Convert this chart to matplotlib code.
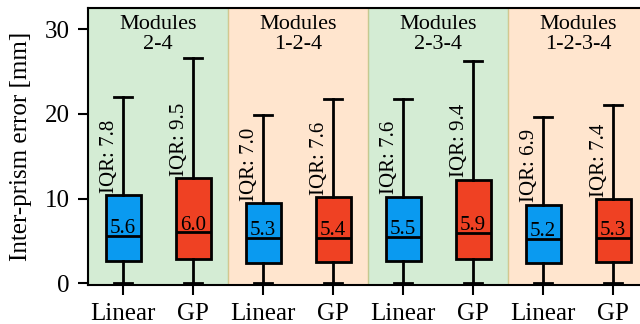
import matplotlib
matplotlib.use("Agg")
import matplotlib.pyplot as plt

plt.rcParams['font.family'] = ['Liberation Serif', 'DejaVu Serif']

methods = ['Linear', 'GP', 'Linear', 'GP', 'Linear', 'GP', 'Linear', 'GP']
groups = ['Modules\n2-4', 'Modules\n1-2-4', 'Modules\n2-3-4', 'Modules\n1-2-3-4']
medians = [5.6, 6.0, 5.3, 5.4, 5.5, 5.9, 5.2, 5.3]
q1 = [2.6, 2.9, 2.45, 2.55, 2.6, 2.85, 2.4, 2.5]
q3 = [10.4, 12.4, 9.45, 10.15, 10.2, 12.25, 9.3, 9.9]
whislo = [0, 0, 0, 0, 0, 0, 0, 0]
whishi = [22.0, 26.6, 19.9, 21.7, 21.7, 26.2, 19.6, 21.0]
iqr_labels = ['7.8', '9.5', '7.0', '7.6', '7.6', '9.4', '6.9', '7.4']

box_colors = {'Linear': '#0a9af0', 'GP': '#ef4123'}
bg_colors = ['#2ca02c', '#ff7f0e']

fig = plt.figure(figsize=(6.4, 3.24), dpi=100)
ax = fig.add_axes([0.1375, 0.1204, 0.875, 0.855])

for g in range(len(groups)):
    ax.axvspan(2 * g - 0.5, 2 * g + 1.5, color=bg_colors[g % 2], alpha=0.2, zorder=0)
    ax.text(2 * g + 0.5, 31.7, groups[g], ha='center', va='top', fontsize=16,
            linespacing=1.12)

stats = []
for i in range(len(methods)):
    stats.append({'med': medians[i], 'q1': q1[i], 'q3': q3[i],
                  'whislo': whislo[i], 'whishi': whishi[i], 'fliers': []})

bp = ax.bxp(stats, positions=range(len(methods)), widths=0.5, patch_artist=True,
            showfliers=False,
            boxprops=dict(linewidth=2, edgecolor='black'),
            medianprops=dict(linewidth=2, color='black'),
            whiskerprops=dict(linewidth=2, color='black'),
            capprops=dict(linewidth=2, color='black'))
for patch, m in zip(bp['boxes'], methods):
    patch.set_facecolor(box_colors[m])

for i in range(len(methods)):
    ax.text(i, medians[i] + 0.35, f'{medians[i]:.1f}', ha='center', va='baseline', fontsize=15)
    ax.text(i - 0.19, q3[i] + 0.3, 'IQR: ' + iqr_labels[i], ha='center', va='bottom',
            rotation=90, fontsize=15)

ax.set_xlim(-0.5, 7.5)
ax.set_ylim(-0.2, 32.5)
ax.set_xticks(range(len(methods)))
ax.set_xticklabels(methods)
ax.set_yticks([0, 10, 20, 30])
ax.tick_params(labelsize=18, width=1.5, length=7, pad=6)
ax.set_ylabel('Inter-prism error [mm]', fontsize=18, labelpad=9)
for s in ax.spines.values():
    s.set_linewidth(1.5)

fig.savefig('out.png', dpi=100)
